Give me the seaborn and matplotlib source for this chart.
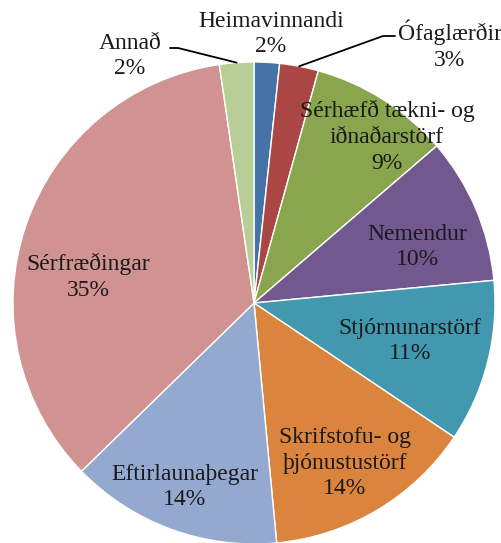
import numpy as np
import matplotlib
matplotlib.use("Agg")
import matplotlib.pyplot as plt
import seaborn as sns

# gögn lesin af myndinni (hlutfall í %)
flokkar = ["Heimavinnandi", "Ófaglærðir", "Sérhæfð tækni- og\niðnaðarstörf", "Nemendur",
           "Stjórnunarstörf", "Skrifstofu- og\nþjónustustörf", "Eftirlaunaþegar",
           "Sérfræðingar", "Annað"]
hlutfall = [1.7, 2.6, 9.4, 9.8, 10.9, 14.1, 14.2, 35.0, 2.3]
litir = ["#4572A7", "#AA4643", "#89A54E", "#71588F", "#4198AF",
         "#DB843D", "#93A9CF", "#D19392", "#B9CD96"]

# staðsetning merkja (pixlar, y upp)
merki_stadur = [(271, 509), (450, 498), (387, 406), (417, 296), (410, 202),
                (345, 80), (185, 56), (88, 266), (130, 487)]

sns.set_theme(style="white")
plt.rcParams["font.family"] = ["Liberation Serif", "DejaVu Serif"]

W, H = 501, 543
fig = plt.figure(figsize=(W / 100, H / 100), dpi=100)
ax = fig.add_axes([0, 0, 1, 1])

midja = (254, 240)
radius = 241
wedges, _ = ax.pie(hlutfall, colors=sns.color_palette(litir), startangle=90,
                   counterclock=False, center=midja, radius=radius, frame=True,
                   wedgeprops=dict(edgecolor="white", linewidth=1))
ax.set_xlim(0, W)
ax.set_ylim(0, H)
ax.set_aspect("equal")
ax.axis("off")

for nafn, v, (x, y) in zip(flokkar, hlutfall, merki_stadur):
    ax.text(x, y, f"{nafn}\n{round(v)}%", ha="center", va="center",
            fontsize=17, color="#1a1a1a", linespacing=1.3)


def jadar(w):
    a = np.deg2rad((w.theta1 + w.theta2) / 2)
    return midja[0] + radius * np.cos(a), midja[1] + radius * np.sin(a)

# leiðarlínur fyrir litlu sneiðarnar
x0, y0 = jadar(wedges[8])
ax.plot([170, 178, x0], [495, 495, y0], color="black", lw=1.3)
x1, y1 = jadar(wedges[1])
ax.plot([x1, 383, 395], [y1, 507, 507], color="black", lw=1.3)

fig.savefig("out.png", dpi=100)
